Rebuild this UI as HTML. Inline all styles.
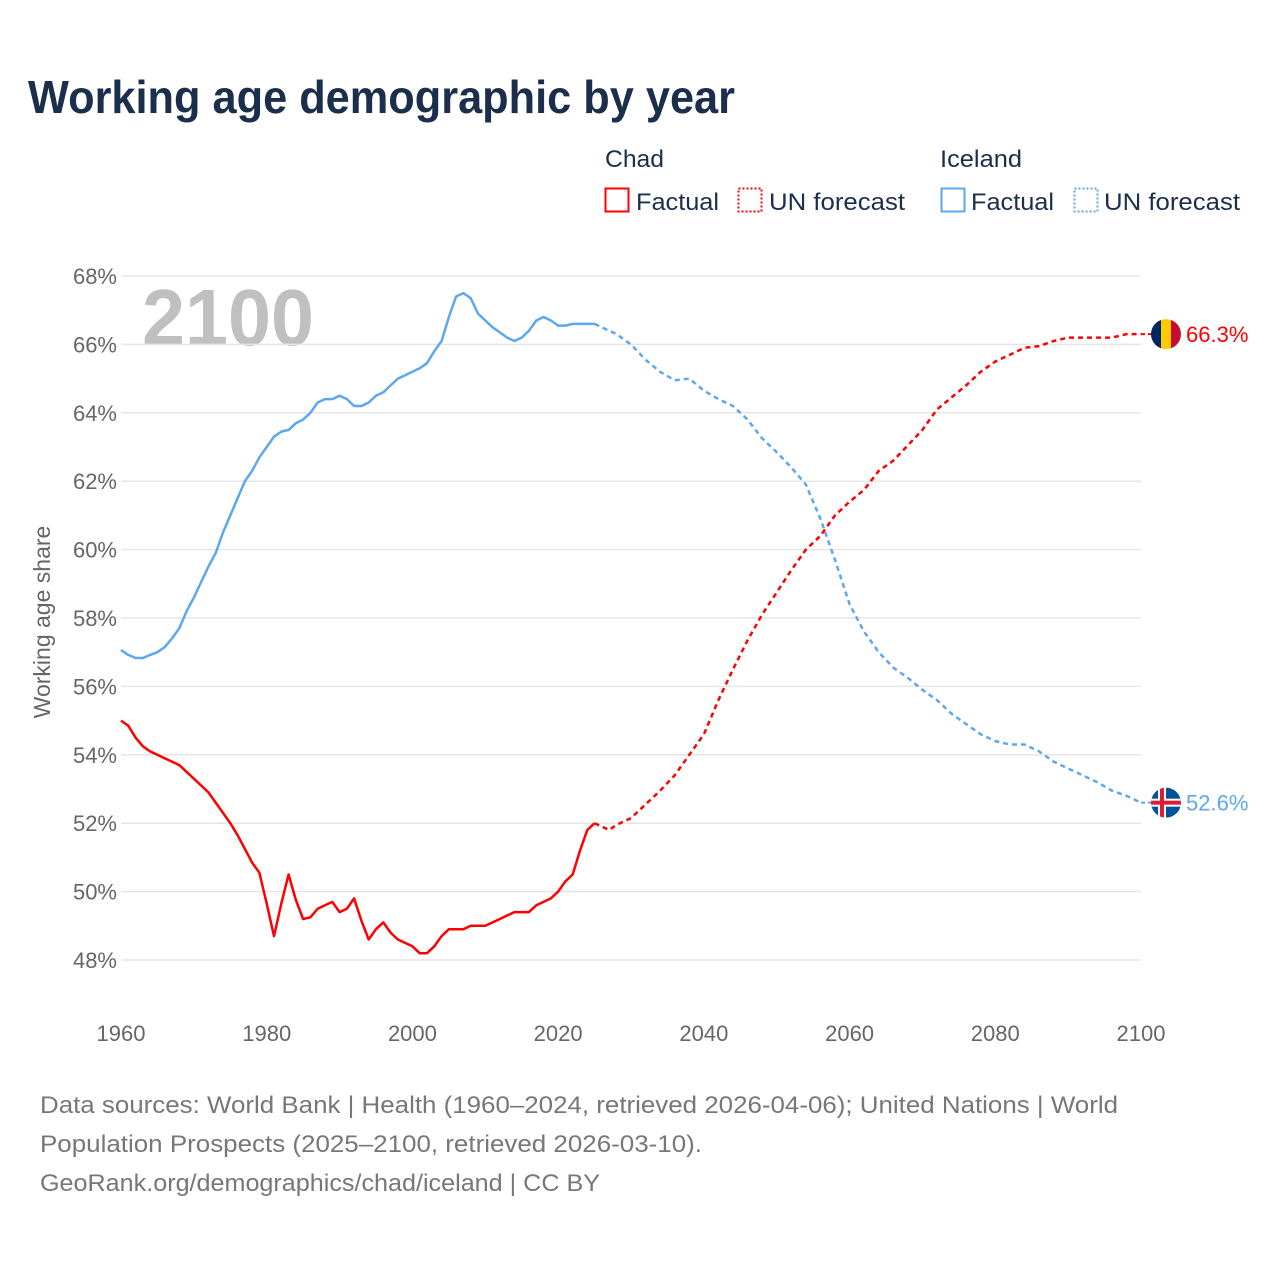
<!DOCTYPE html>
<html><head><meta charset="utf-8"><style>
body{margin:0;background:#fff;}
svg{display:block;font-family:"Liberation Sans",sans-serif;}
</style></head><body>
<svg id="chart" width="1280" height="1280" viewBox="0 0 1280 1280">
<rect width="1280" height="1280" fill="#fff"/>
<text x="28" y="113" font-size="46" font-weight="bold" fill="#1b2f4d" textLength="707" lengthAdjust="spacingAndGlyphs">Working age demographic by year</text>
<g font-size="24" fill="#1b2f4d">
<text x="605" y="167" textLength="59" lengthAdjust="spacingAndGlyphs">Chad</text>
<rect x="605.5" y="188.5" width="23" height="23" fill="none" stroke="#f00" stroke-width="2"/>
<text x="636" y="210" textLength="83" lengthAdjust="spacingAndGlyphs">Factual</text>
<rect x="738.5" y="188.5" width="23" height="23" fill="none" stroke="#f00" stroke-width="2" stroke-dasharray="2 2"/>
<text x="769" y="210" textLength="136" lengthAdjust="spacingAndGlyphs">UN forecast</text>
<text x="940" y="167" textLength="82" lengthAdjust="spacingAndGlyphs">Iceland</text>
<rect x="941.5" y="188.5" width="23" height="23" fill="none" stroke="#5ea7ec" stroke-width="2"/>
<text x="971" y="210" textLength="83" lengthAdjust="spacingAndGlyphs">Factual</text>
<rect x="1074.5" y="188.5" width="23" height="23" fill="none" stroke="#5ea7ec" stroke-width="2" stroke-dasharray="2 2"/>
<text x="1104" y="210" textLength="136" lengthAdjust="spacingAndGlyphs">UN forecast</text>
</g>
<text x="142" y="345" font-size="80" font-weight="bold" fill="#c0c0c0" textLength="172" lengthAdjust="spacingAndGlyphs">2100</text>
<g id="grid"></g>
<g id="series"></g>
<text transform="translate(50,622) rotate(-90)" text-anchor="middle" font-size="23" fill="#666">Working age share</text>
<g font-size="24" fill="#777">
<text x="40" y="1113" textLength="1078" lengthAdjust="spacingAndGlyphs">Data sources: World Bank | Health (1960–2024, retrieved 2026-04-06); United Nations | World</text>
<text x="40" y="1152" textLength="662" lengthAdjust="spacingAndGlyphs">Population Prospects (2025–2100, retrieved 2026-03-10).</text>
<text x="40" y="1191" textLength="560" lengthAdjust="spacingAndGlyphs">GeoRank.org/demographics/chad/iceland | CC BY</text>
</g>
</svg>
<script>
const yTicks=[48,50,52,54,56,58,60,62,64,66,68];
const xTicks=[1960,1980,2000,2020,2040,2060,2080,2100];
const chadFactYears=[1960,1961,1962,1963,1964,1966,1968,1970,1972,1974,1975,1976,1977,1978,1979,1980,1981,1982,1983,1984,1985,1986,1987,1988,1989,1990,1991,1992,1993,1994,1995,1996,1997,1998,1999,2000,2001,2002,2003,2004,2005,2006,2007,2008,2009,2010,2011,2012,2013,2014,2015,2016,2017,2018,2019,2020,2021,2022,2023,2024,2025];
const chadFact=[55.0,54.85,54.5,54.25,54.1,53.9,53.7,53.3,52.9,52.3,52.0,51.65,51.25,50.85,50.55,49.65,48.7,49.65,50.5,49.75,49.2,49.25,49.5,49.6,49.7,49.4,49.5,49.8,49.15,48.6,48.9,49.1,48.8,48.6,48.5,48.4,48.2,48.2,48.4,48.7,48.9,48.9,48.9,49.0,49.0,49.0,49.1,49.2,49.3,49.4,49.4,49.4,49.6,49.7,49.8,50.0,50.3,50.5,51.2,51.8,52.0];
const chadFcYears=[2025,2026,2027,2028,2030,2032,2034,2036,2038,2040,2042,2044,2046,2048,2050,2052,2054,2056,2058,2060,2062,2064,2066,2068,2070,2072,2074,2076,2078,2080,2082,2084,2086,2088,2090,2092,2094,2096,2098,2100];
const chadFc=[52.0,51.9,51.8,51.95,52.15,52.55,52.95,53.4,54.0,54.6,55.6,56.5,57.35,58.1,58.75,59.4,60.0,60.4,61.0,61.4,61.75,62.3,62.6,63.05,63.5,64.1,64.45,64.8,65.2,65.5,65.7,65.9,65.95,66.1,66.2,66.2,66.2,66.2,66.3,66.3];
const iceFactYears=[1960,1961,1962,1963,1964,1965,1966,1967,1968,1969,1970,1971,1972,1973,1974,1975,1976,1977,1978,1979,1980,1981,1982,1983,1984,1985,1986,1987,1988,1989,1990,1991,1992,1993,1994,1995,1996,1997,1998,1999,2000,2001,2002,2003,2004,2005,2006,2007,2008,2009,2010,2011,2012,2013,2014,2015,2016,2017,2018,2019,2020,2021,2022,2023,2024,2025];
const iceFact=[57.06,56.92,56.83,56.83,56.92,57.0,57.15,57.4,57.7,58.2,58.6,59.05,59.5,59.9,60.5,61.0,61.5,62.0,62.3,62.7,63.0,63.3,63.45,63.5,63.7,63.8,64.0,64.3,64.4,64.4,64.5,64.4,64.2,64.2,64.3,64.5,64.6,64.8,65.0,65.1,65.2,65.3,65.45,65.8,66.1,66.8,67.4,67.5,67.35,66.9,66.7,66.5,66.35,66.2,66.1,66.2,66.4,66.7,66.8,66.7,66.55,66.55,66.6,66.6,66.6,66.6];
const iceFcYears=[2025,2026,2028,2030,2032,2034,2036,2038,2040,2042,2044,2046,2048,2050,2052,2054,2056,2058,2060,2062,2064,2066,2068,2070,2072,2074,2076,2078,2080,2082,2084,2086,2088,2090,2092,2094,2096,2098,2100];
const iceFc=[66.6,66.5,66.3,66.0,65.55,65.2,64.95,65.0,64.65,64.4,64.2,63.8,63.25,62.85,62.4,61.9,60.9,59.7,58.4,57.6,57.0,56.55,56.25,55.9,55.6,55.2,54.9,54.6,54.4,54.3,54.3,54.1,53.8,53.6,53.4,53.2,52.95,52.8,52.6];

const NS="http://www.w3.org/2000/svg";
const X=y=>121+(y-1960)*(1141-121)/140;
const Y=v=>276+(68-v)*(960-276)/20;
function mk(tag,attrs,parent){const e=document.createElementNS(NS,tag);for(const k in attrs)e.setAttribute(k,attrs[k]);parent.appendChild(e);return e;}
const grid=document.getElementById('grid');
yTicks.forEach(t=>{
  const l=mk('line',{x1:121,x2:1141,y1:Y(t),y2:Y(t),stroke:'#e6e6e6','stroke-width':1.5},grid);
  
  
  const tx=mk('text',{x:117,y:Y(t)+8,'text-anchor':'end','font-size':22,fill:'#666'},grid);
  tx.textContent=t+'%';
  
  
});
xTicks.forEach(t=>{
  const tx=mk('text',{x:X(t),y:1041,'text-anchor':'middle','font-size':22,fill:'#666'},grid);
  tx.textContent=t;
  
  
});
const ser=document.getElementById('series');
function line(years,vals,color,dash,name){
  const d=years.map((y,i)=>(i?'L':'M')+X(y).toFixed(1)+','+Y(vals[i]).toFixed(1)).join('');
  const p=mk('path',{d:d,fill:'none',stroke:color,'stroke-width':2.5,'stroke-linejoin':'round'},ser);
  if(dash)p.setAttribute('stroke-dasharray','5 4');
  
  
}
line(iceFactYears,iceFact,'#5ea7ec',false,'iceland-factual-line');
line(iceFcYears,iceFc,'#5ea7ec',true,'iceland-forecast-line');
line(chadFactYears,chadFact,'#ff0000',false,'chad-factual-line');
line(chadFcYears,chadFc,'#ff0000',true,'chad-forecast-line');
// end markers
const cLast=chadFc[chadFc.length-1], iLast=iceFc[iceFc.length-1];
const cy=Y(cLast), iy=Y(iLast), fx=1166;
mk('line',{x1:X(2100),x2:fx,y1:cy,y2:cy,stroke:'#f00','stroke-width':2,'stroke-dasharray':'4 3'},ser);
mk('line',{x1:X(2100),x2:fx,y1:iy,y2:iy,stroke:'#5ea7ec','stroke-width':2,'stroke-dasharray':'4 3'},ser);
const defs=mk('defs',{},ser);
const cp1=mk('clipPath',{id:'cc'},defs);mk('circle',{cx:fx,cy:cy,r:15},cp1);
const cp2=mk('clipPath',{id:'ic'},defs);mk('circle',{cx:fx,cy:iy,r:15},cp2);
const fc=mk('g',{'clip-path':'url(#cc)'},ser);


mk('rect',{x:fx-15,y:cy-15,width:10,height:30,fill:'#002664'},fc);
mk('rect',{x:fx-5,y:cy-15,width:10,height:30,fill:'#fecb00'},fc);
mk('rect',{x:fx+5,y:cy-15,width:10,height:30,fill:'#c60c30'},fc);
const fi=mk('g',{'clip-path':'url(#ic)'},ser);


mk('rect',{x:fx-15,y:iy-15,width:30,height:30,fill:'#02529c'},fi);
mk('rect',{x:fx-15,y:iy-4,width:30,height:8,fill:'#fff'},fi);
mk('rect',{x:fx-8,y:iy-15,width:8,height:30,fill:'#fff'},fi);
mk('rect',{x:fx-15,y:iy-2,width:30,height:4,fill:'#dc1e35'},fi);
mk('rect',{x:fx-6,y:iy-15,width:4,height:30,fill:'#dc1e35'},fi);
const cl=mk('text',{x:1186,y:cy+8,'font-size':22,fill:'#f00'},ser);
cl.textContent=cLast.toFixed(1)+'%';


const il=mk('text',{x:1186,y:iy+8,'font-size':22,fill:'#5ea7ec'},ser);
il.textContent=iLast.toFixed(1)+'%';


</script>
</body></html>
